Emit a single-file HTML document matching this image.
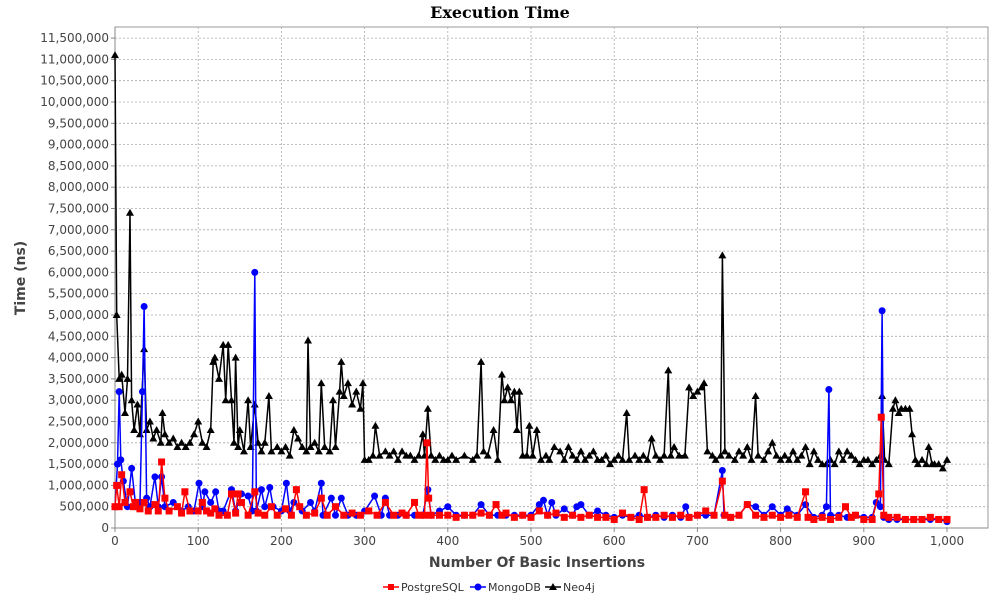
<!DOCTYPE html>
<html><head><meta charset="utf-8"><style>
body{margin:0;background:#fff;font-family:"DejaVu Sans",sans-serif}
svg text{font-family:"DejaVu Sans",sans-serif}
</style></head><body>
<svg width="1000" height="600" xmlns="http://www.w3.org/2000/svg">
<text x="500" y="18" text-anchor="middle" font-weight="bold" font-size="16" style="font-family:'DejaVu Serif',serif">Execution Time</text>
<rect x="115" y="27" width="873" height="501" fill="#fff" stroke="#999"/>
<g id="grid"></g>
<g id="axes"></g>
<g id="series"></g>
<text x="0" y="0" transform="translate(25,278) rotate(-90)" text-anchor="middle" font-size="14" font-weight="bold" fill="#444">Time (ns)</text>
<text x="537" y="567" text-anchor="middle" font-size="14" font-weight="bold" fill="#444">Number Of Basic Insertions</text>
<g>
 <g><line x1="383" y1="587" x2="399" y2="587" stroke="#f00" stroke-width="1.5"/><rect x="388" y="584" width="6" height="6" fill="#f00"/><text x="401" y="591" font-size="11" fill="#333">PostgreSQL</text></g>
 <g><line x1="470" y1="587" x2="486" y2="587" stroke="#00f" stroke-width="1.5"/><circle cx="478" cy="587" r="3.5" fill="#00f"/><text x="488" y="591" font-size="11" fill="#333">MongoDB</text></g>
 <g><line x1="545" y1="587" x2="561" y2="587" stroke="#000" stroke-width="1.5"/><path d="M553 583L557 590L549 590Z" fill="#000"/><text x="563" y="591" font-size="11" fill="#333">Neo4j</text></g>
</g>
</svg>
<script>
const yTicks=[0,500000,1000000,1500000,2000000,2500000,3000000,3500000,4000000,4500000,5000000,5500000,6000000,6500000,7000000,7500000,8000000,8500000,9000000,9500000,10000000,10500000,11000000,11500000];
const xTicks=[0,100,200,300,400,500,600,700,800,900,1000];
const neoX=[0,2,5,8,12,15,18,20,23,27,30,35,38,42,46,50,55,57,60,65,70,75,80,85,90,95,100,105,110,115,118,120,125,130,133,136,140,143,145,148,150,155,160,163,168,172,176,180,185,188,195,200,205,210,215,220,225,230,232,235,240,245,248,252,258,262,265,270,272,275,280,285,290,295,298,300,305,310,313,318,325,330,335,340,345,350,355,360,365,370,372,376,380,385,390,395,400,405,410,420,430,435,440,443,448,455,460,465,468,472,476,480,483,486,490,495,498,502,507,512,518,522,528,535,540,545,550,555,560,565,570,575,580,585,590,595,600,605,610,615,618,625,630,635,640,645,650,655,660,665,668,672,678,685,690,695,700,705,708,712,718,722,728,730,733,738,745,750,755,760,765,770,773,780,785,790,795,800,805,810,815,820,825,830,835,840,845,850,855,860,865,870,875,880,885,890,895,900,905,910,915,920,922,925,930,935,938,942,945,950,955,958,962,965,970,975,978,982,985,990,995,1000];
const neoY=[11.1,5.0,3.5,3.6,2.7,3.5,7.4,3.0,2.3,2.9,2.2,4.2,2.3,2.5,2.1,2.3,2.0,2.7,2.2,2.0,2.1,1.9,2.0,1.9,2.0,2.2,2.5,2.0,1.9,2.3,3.9,4.0,3.5,4.3,3.0,4.3,3.0,2.0,4.0,1.9,2.3,1.8,3.0,1.9,2.9,2.0,1.8,2.0,3.1,1.8,1.9,1.8,1.9,1.7,2.3,2.1,1.9,1.8,4.4,1.9,2.0,1.8,3.4,1.9,1.8,3.0,1.9,3.2,3.9,3.1,3.4,2.9,3.2,2.8,3.4,1.6,1.6,1.7,2.4,1.7,1.8,1.7,1.8,1.6,1.8,1.7,1.7,1.6,1.7,2.2,1.7,2.8,1.7,1.6,1.7,1.6,1.6,1.7,1.6,1.7,1.6,1.7,3.9,1.8,1.7,2.3,1.6,3.6,3.0,3.3,3.0,3.2,2.3,3.2,1.7,1.7,2.4,1.7,2.3,1.6,1.7,1.6,1.9,1.8,1.6,1.9,1.7,1.6,1.8,1.6,1.7,1.8,1.6,1.6,1.7,1.5,1.6,1.7,1.6,2.7,1.6,1.7,1.6,1.7,1.6,2.1,1.7,1.6,1.7,3.7,1.7,1.9,1.7,1.7,3.3,3.1,3.2,3.3,3.4,1.8,1.7,1.6,1.7,6.4,1.8,1.7,1.6,1.8,1.7,1.9,1.6,3.1,1.7,1.6,1.8,2.0,1.7,1.6,1.7,1.6,1.8,1.6,1.7,1.9,1.5,1.8,1.6,1.5,1.5,1.6,1.5,1.8,1.6,1.8,1.7,1.6,1.5,1.6,1.6,1.5,1.6,1.7,3.1,1.6,1.5,2.8,3.0,2.7,2.8,2.8,2.8,2.2,1.6,1.5,1.6,1.5,1.9,1.5,1.5,1.5,1.4,1.6];
const mongoX=[0,3,5,7,10,15,20,25,30,33,35,38,42,48,52,56,60,70,80,88,95,101,105,108,115,121,125,130,140,145,152,160,165,168,170,176,180,186,190,200,206,210,215,225,235,240,248,250,260,265,272,280,290,300,312,320,325,330,340,350,360,370,376,380,390,400,410,420,430,440,450,460,470,480,490,500,510,515,520,525,530,540,550,555,560,570,580,590,600,610,620,630,640,650,660,670,680,686,690,700,710,720,730,732,740,750,760,770,780,790,800,808,820,830,840,850,855,858,860,870,880,890,900,910,915,920,922,924,930,940,950,960,970,980,990,1000];
const mongoY=[0.5,1.5,3.2,1.6,1.1,0.5,1.4,0.5,0.6,3.2,5.2,0.7,0.5,1.2,0.5,1.2,0.5,0.6,0.4,0.5,0.4,1.05,0.5,0.85,0.6,0.85,0.4,0.4,0.9,0.4,0.8,0.75,0.4,6.0,0.4,0.9,0.5,0.95,0.5,0.4,1.05,0.4,0.6,0.4,0.6,0.4,1.05,0.3,0.7,0.3,0.7,0.3,0.3,0.4,0.75,0.3,0.7,0.3,0.3,0.3,0.3,0.3,0.9,0.3,0.4,0.5,0.3,0.3,0.3,0.55,0.3,0.3,0.3,0.3,0.3,0.3,0.55,0.65,0.3,0.6,0.3,0.45,0.3,0.5,0.55,0.3,0.4,0.3,0.25,0.3,0.25,0.3,0.25,0.3,0.25,0.3,0.25,0.5,0.25,0.3,0.3,0.3,1.35,0.3,0.25,0.3,0.55,0.5,0.3,0.5,0.3,0.45,0.3,0.55,0.25,0.3,0.5,3.25,0.3,0.3,0.25,0.3,0.25,0.25,0.6,0.5,5.1,0.25,0.2,0.2,0.2,0.2,0.2,0.2,0.2,0.15];
const pgX=[0,2,5,8,12,18,22,25,30,35,40,48,52,56,60,65,75,80,84,90,100,105,110,115,120,125,135,140,145,148,152,160,168,172,180,188,195,205,212,218,222,230,240,248,255,265,275,285,295,305,315,325,335,345,350,360,365,372,375,377,380,390,400,410,420,430,440,450,458,465,470,480,490,500,510,520,530,540,550,560,570,580,590,600,610,620,630,636,640,650,660,670,680,690,700,710,720,730,733,740,750,760,770,780,790,800,810,820,830,833,840,850,860,870,878,885,890,900,910,918,921,924,930,940,950,960,970,980,990,1000];
const pgY=[0.5,1.0,0.5,1.25,0.6,0.85,0.5,0.6,0.45,0.6,0.4,0.55,0.4,1.55,0.7,0.4,0.5,0.35,0.85,0.4,0.4,0.6,0.4,0.35,0.45,0.3,0.3,0.8,0.35,0.8,0.6,0.3,0.85,0.35,0.3,0.5,0.3,0.45,0.3,0.9,0.5,0.3,0.35,0.7,0.3,0.5,0.3,0.35,0.3,0.4,0.3,0.6,0.3,0.35,0.3,0.6,0.3,0.3,2.0,0.7,0.3,0.3,0.3,0.25,0.3,0.3,0.35,0.3,0.55,0.3,0.35,0.25,0.3,0.25,0.4,0.3,0.35,0.25,0.3,0.25,0.3,0.25,0.25,0.2,0.35,0.25,0.2,0.9,0.25,0.25,0.3,0.25,0.3,0.25,0.3,0.4,0.3,1.1,0.3,0.25,0.3,0.55,0.3,0.25,0.3,0.25,0.3,0.25,0.85,0.25,0.2,0.25,0.2,0.25,0.5,0.25,0.3,0.2,0.2,0.8,2.6,0.3,0.25,0.25,0.2,0.2,0.2,0.25,0.2,0.2];

const NS='http://www.w3.org/2000/svg';
const L=115,R=988,T=27,B=528;
const sx=v=>L+v*0.832;
const sy=v=>B-v/500000*21.3;
function mk(tag,attrs,parent){const e=document.createElementNS(NS,tag);for(const k in attrs)e.setAttribute(k,attrs[k]);parent.appendChild(e);return e;}
const grid=document.getElementById('grid'),axes=document.getElementById('axes'),ser=document.getElementById('series');
yTicks.forEach(v=>{
 const y=sy(v);
 mk('line',{x1:L,x2:R,y1:y,y2:y,stroke:'#aaa','stroke-dasharray':'2,2','stroke-width':0.8},grid);
 mk('line',{x1:L-4,x2:L,y1:y,y2:y,stroke:'#888'},axes);
 const t=mk('text',{x:L-6,y:y+4,'text-anchor':'end','font-size':12,fill:'#444'},axes);
 
 
 t.textContent=v.toLocaleString('en-US');
});
xTicks.forEach(v=>{
 const x=sx(v);
 mk('line',{x1:x,x2:x,y1:T,y2:B,stroke:'#aaa','stroke-dasharray':'2,2','stroke-width':0.8},grid);
 mk('line',{x1:x,x2:x,y1:B,y2:B+4,stroke:'#888'},axes);
 const t=mk('text',{x:x,y:B+17,'text-anchor':'middle','font-size':12,fill:'#444'},axes);
 
 
 t.textContent=v.toLocaleString('en-US');
});
mk('line',{x1:L,x2:L,y1:T,y2:B,stroke:'#888'},axes);
mk('line',{x1:L,x2:R,y1:B,y2:B,stroke:'#888'},axes);
function draw(xs,ys,color,shape,name){
 const g=mk('g',{},ser);
 
 
 const pts=xs.map((x,i)=>sx(x).toFixed(1)+','+sy(ys[i]*1e6).toFixed(1)).join(' ');
 mk('polyline',{points:pts,fill:'none',stroke:color,'stroke-width':1.5},g);
 xs.forEach((x,i)=>{
  const cx=sx(x),cy=sy(ys[i]*1e6);
  let m;
  if(shape==='tri')m=mk('path',{d:`M${cx} ${cy-4}L${cx+4} ${cy+3}L${cx-4} ${cy+3}Z`,fill:color},g);
  else if(shape==='sq')m=mk('rect',{x:cx-3.5,y:cy-3.5,width:7,height:7,fill:color},g);
  else m=mk('circle',{cx:cx,cy:cy,r:3.5,fill:color},g);
  
  
 });
}
draw(neoX,neoY,'#000','tri','series-neo4j');
draw(mongoX,mongoY,'#00f','circ','series-mongodb');
draw(pgX,pgY,'#f00','sq','series-postgresql');
</script>
</body></html>
